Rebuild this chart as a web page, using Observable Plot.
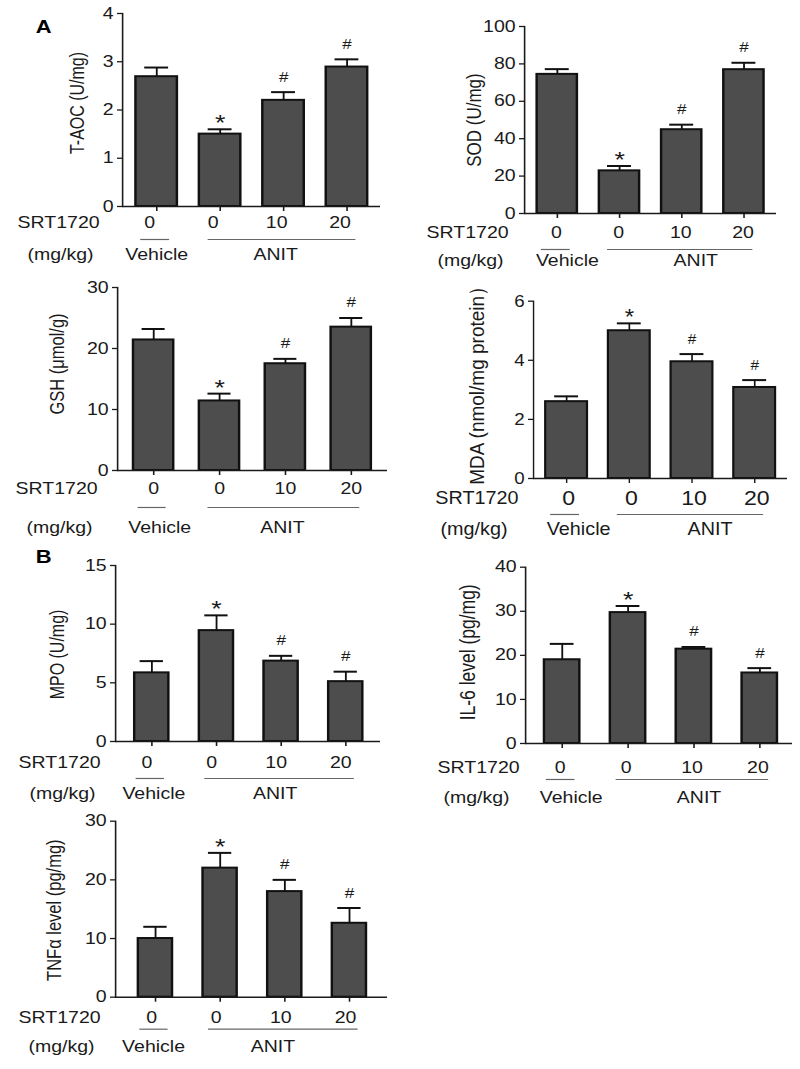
<!DOCTYPE html>
<html>
<head>
<meta charset="utf-8">
<script src="https://cdn.jsdelivr.net/npm/d3@7"></script>
<script src="https://cdn.jsdelivr.net/npm/@observablehq/plot@0.6"></script>
<style>
  html, body { margin: 0; padding: 0; background: #fff; }
  #fig { position: relative; width: 800px; height: 1069px; overflow: hidden; background: #fff; }
  .panel { position: absolute; transform-origin: 0 0; }
  .panel svg { overflow: visible; }
</style>
</head>
<body>
<div id="fig"></div>
<script>
// ---------- data ----------
const groups = ["Vehicle 0", "ANIT 0", "ANIT 10", "ANIT 20"];
const doses = ["0", "0", "10", "20"];
const treatments = ["Vehicle", "ANIT", "ANIT", "ANIT"];
const doseTitle = "SRT1720";
const unitTitle = "(mg/kg)";

const taocMean = [2.69, 1.50, 2.20, 2.89];
const taocErr = [0.19, 0.10, 0.17, 0.16];
const taocSig = ["", "*", "#", "#"];
const taocTicks = [0, 1, 2, 3, 4];

const sodMean = [74.4, 22.8, 44.8, 76.9];
const sodErr = [2.8, 2.6, 2.7, 3.7];
const sodSig = ["", "*", "#", "#"];
const sodTicks = [0, 20, 40, 60, 80, 100];

const gshMean = [21.4, 11.4, 17.5, 23.5];
const gshErr = [1.8, 1.2, 0.8, 1.5];
const gshSig = ["", "*", "#", "#"];
const gshTicks = [0, 10, 20, 30];

const mdaMean = [2.6, 5.0, 3.95, 3.08];
const mdaErr = [0.18, 0.25, 0.26, 0.25];
const mdaSig = ["", "*", "#", "#"];
const mdaTicks = [0, 2, 4, 6];

const mpoMean = [5.85, 9.45, 6.85, 5.1];
const mpoErr = [1.0, 1.3, 0.45, 0.85];
const mpoSig = ["", "*", "#", "#"];
const mpoTicks = [0, 5, 10, 15];

const il6Mean = [19.0, 29.7, 21.4, 16.0];
const il6Err = [3.6, 1.5, 0.5, 1.1];
const il6Sig = ["", "*", "#", "#"];
const il6Ticks = [0, 10, 20, 30, 40];

const tnfMean = [10.0, 22.0, 18.0, 12.6];
const tnfErr = [2.0, 2.6, 2.0, 2.6];
const tnfSig = ["", "*", "#", "#"];
const tnfTicks = [0, 10, 20, 30];

// ---------- layout (image pixel geometry) ----------
const panels = [
  {label: "T-AOC (U/mg)", mean: taocMean, err: taocErr, sig: taocSig, ticks: taocTicks, letter: "A", letterXY: [43, 27],
   box: [0, 0, 400, 270], frame: [122, 380, 13, 206], inset: [0, 0], pad: 0.355, s: 1.22,
   tickFont: 16, doseFont: 16, textFont: 16, labelFont: 16, doseDy: 16, lineDy: 33, mgDy: 48,
   doseDx: -7, srtDx: -23, mgDx: -29, vehDx: 0, anitDx: -8, labelDx: -45, labelDy: -7},
  {label: "SOD (U/mg)", mean: sodMean, err: sodErr, sig: sodSig, ticks: sodTicks,
   box: [400, 0, 400, 270], frame: [524, 776, 26, 213], inset: [0, 0], pad: 0.36, s: 1.22,
   tickFont: 16, doseFont: 16, textFont: 16, labelFont: 17, doseDy: 19, lineDy: 36, mgDy: 47,
   doseDx: -1, srtDx: -16, mgDx: -21, vehDx: 10, anitDx: 14, labelDx: -50, labelDy: 0},
  {label: "GSH (μmol/g)", mean: gshMean, err: gshErr, sig: gshSig, ticks: gshTicks,
   box: [0, 270, 400, 270], frame: [117, 387, 287, 470], inset: [1, 1], pad: 0.385, s: 1.22,
   tickFont: 16, doseFont: 16, textFont: 16, labelFont: 16.5, doseDy: 18, lineDy: 37, mgDy: 57,
   doseDx: 0, srtDx: -20, mgDx: -25, vehDx: 6, anitDx: -3, labelDx: -60, labelDy: -15},
  {label: "MDA (nmol/mg protein）", mean: mdaMean, err: mdaErr, sig: mdaSig, ticks: mdaTicks,
   box: [400, 270, 400, 270], frame: [533, 787, 300.7, 478], inset: [0, 0], pad: 0.34, s: 1.1,
   tickFont: 17, doseFont: 21, textFont: 18, labelFont: 19, doseDy: 20, lineDy: 36, mgDy: 51,
   doseDx: 2, srtDx: -15, mgDx: -26, vehDx: 12, anitDx: 18, labelDx: -56, labelDy: -9},
  {label: "MPO (U/mg)", mean: mpoMean, err: mpoErr, sig: mpoSig, ticks: mpoTicks, letter: "B", letterXY: [43, 557],
   box: [0, 540, 400, 270], frame: [115, 380, 565, 741], inset: [2, 0], pad: 0.47, s: 1.22,
   tickFont: 16, doseFont: 16, textFont: 16, labelFont: 16, doseDy: 21, lineDy: 37, mgDy: 52,
   doseDx: -5, srtDx: -15, mgDx: -20, vehDx: 2, anitDx: -6, labelDx: -58, labelDy: 1},
  {label: "IL-6 level (pg/mg)", mean: il6Mean, err: il6Err, sig: il6Sig, ticks: il6Ticks,
   box: [400, 540, 400, 270], frame: [525, 792, 566.7, 743], inset: [3, 0], pad: 0.46, s: 1.22,
   tickFont: 16, doseFont: 16, textFont: 16, labelFont: 17.5, doseDy: 24, lineDy: 36, mgDy: 54,
   doseDx: -2, srtDx: -6, mgDx: -16, vehDx: 9, anitDx: 5, labelDx: -57, labelDy: -3},
  {label: "TNFα level (pg/mg)", mean: tnfMean, err: tnfErr, sig: tnfSig, ticks: tnfTicks,
   box: [0, 800, 400, 269], frame: [115, 387, 820.7, 996.7], inset: [6, 3], pad: 0.47, s: 1.22,
   tickFont: 16, doseFont: 16, textFont: 16, labelFont: 16.5, doseDy: 21, lineDy: 32, mgDy: 50,
   doseDx: -4, srtDx: -15, mgDx: -21, vehDx: -2, anitDx: -12, labelDx: -61, labelDy: 1}
];

const ink = "#1a1a1a";
const barFill = "#4d4d4d";
const barStroke = "#111";
const font = '"Liberation Sans", Arial, Helvetica, sans-serif';
const capWidth = 24;               // image px
const lineExt = {Vehicle: [16, 13], ANIT: [12, 9]}; // image px beyond centers

const fig = document.getElementById("fig");

function draw(p) {
  const [bx, by, bw, bh] = p.box;
  const [L, R, T, B] = p.frame;
  const s = p.s;
  const width = bw / s;
  const mL = (L - bx) / s, mR = (bx + bw - R) / s, mT = T - by, mB = by + bh - B;
  const inL = p.inset[0] / s, inR = p.inset[1] / s;
  const n = groups.length;
  const step = (width - mL - mR - inL - inR) / n;
  const band = step * (1 - p.pad);
  const capIn = Math.max(0, (band - capWidth / s) / 2);

  const rows = groups.map((g, i) => ({
    group: g, dose: doses[i], treatment: treatments[i],
    mean: p.mean[i], top: p.mean[i] + p.err[i], sig: p.sig[i]
  }));
  const spans = Array.from(d3.group(rows, d => d.treatment), ([label, rs]) => ({
    label, from: rs[0].group, to: rs[rs.length - 1].group,
    mid: rs[Math.floor((rs.length - 1) / 2)].group
  }));

  const marks = [
    Plot.barY(rows, {x: "group", y: "mean", fill: barFill, stroke: barStroke, strokeWidth: 2}),
    Plot.ruleX(rows, {x: "group", y1: "mean", y2: "top", stroke: barStroke, strokeWidth: 1.5}),
    Plot.tickY(rows, {x: "group", y: "top", stroke: barStroke, strokeWidth: 2, insetLeft: capIn, insetRight: capIn}),
    Plot.text(rows.filter(d => d.sig === "*"), {x: "group", y: "top", text: "sig", fontSize: 22, dy: -6, fill: ink}),
    Plot.text(rows.filter(d => d.sig === "#"), {x: "group", y: "top", text: "sig", fontSize: 14, dy: -15, fill: ink}),
    Plot.frame({anchor: "left", stroke: ink, strokeWidth: 1.3}),
    Plot.ruleY([0], {stroke: ink, strokeWidth: 1.5}),
    Plot.axisY({ticks: p.ticks, tickFormat: d => String(d), tickSize: 5 / s, tickPadding: 4 / s,
                fontSize: p.tickFont, label: null, stroke: ink, fill: ink, strokeWidth: 1.3}),
    Plot.axisX({tickSize: 5, fill: "none", label: null, stroke: ink, strokeWidth: 1.3}),
    Plot.text(rows, {x: "group", text: "dose", frameAnchor: "bottom", lineAnchor: "middle",
                     dy: p.doseDy, dx: p.doseDx / s, fontSize: p.doseFont, fill: ink}),
    Plot.text([doseTitle], {frameAnchor: "bottom-left", textAnchor: "end", lineAnchor: "middle",
                            dx: p.srtDx / s, dy: p.doseDy, fontSize: p.textFont, fill: ink}),
    Plot.text([unitTitle], {frameAnchor: "bottom-left", textAnchor: "end", lineAnchor: "middle",
                            dx: p.mgDx / s, dy: p.mgDy, fontSize: p.textFont, fill: ink}),
    Plot.text([p.label], {frameAnchor: "left", textAnchor: "middle", lineAnchor: "middle", rotate: -90,
                          dx: p.labelDx / s, dy: p.labelDy, fontSize: p.labelFont, fill: ink})
  ];
  for (const sp of spans) {
    const [lo, hi] = lineExt[sp.label];
    marks.push(Plot.ruleY([sp], {x1: "from", x2: "to", y: 0, dy: p.lineDy, stroke: "#666", strokeWidth: 1.2,
                                 insetLeft: band / 2 - lo / s, insetRight: band / 2 - hi / s}));
    marks.push(Plot.text([sp], {x: "mid", text: "label", frameAnchor: "bottom", lineAnchor: "middle", dy: p.mgDy,
                                dx: (sp.label === "Vehicle" ? p.vehDx : p.anitDx) / s,
                                fontSize: p.textFont, fill: ink}));
  }
  if (p.letter) {
    marks.push(Plot.text([p.letter], {frameAnchor: "top-left", textAnchor: "middle", lineAnchor: "middle",
                                      dx: (p.letterXY[0] - L) / s, dy: p.letterXY[1] - T,
                                      fontSize: 18, fontWeight: "bold", fill: "#000"}));
  }

  const svg = Plot.plot({
    width, height: bh,
    marginLeft: mL, marginRight: mR, marginTop: mT, marginBottom: mB,
    x: {domain: groups, paddingInner: p.pad, paddingOuter: p.pad / 2, insetLeft: inL, insetRight: inR},
    y: {domain: [0, d3.max(p.ticks)]},
    style: {fontFamily: font, background: "transparent", overflow: "visible", color: ink},
    marks
  });
  const div = document.createElement("div");
  div.className = "panel";
  div.style.left = bx + "px";
  div.style.top = by + "px";
  div.style.width = width + "px";
  div.style.height = bh + "px";
  div.style.transform = `scaleX(${s})`;
  div.appendChild(svg);
  fig.appendChild(div);
}

panels.forEach(draw);
</script>
</body>
</html>
